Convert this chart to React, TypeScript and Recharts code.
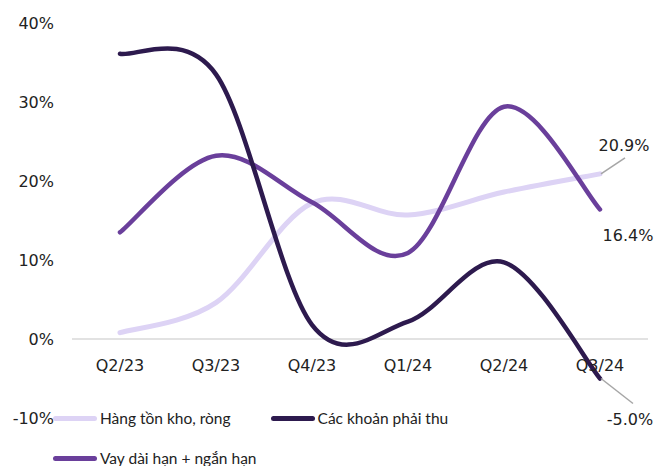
import React from 'react'
import { LineChart, Line, XAxis, YAxis, ReferenceLine, LabelList, Legend } from 'recharts'

const categories = ['Q2/23', 'Q3/23', 'Q4/23', 'Q1/24', 'Q2/24', 'Q3/24']
const hangTonKho = [0.8, 4.6, 17.2, 15.7, 18.6, 20.9]
const cacKhoanPhaiThu = [36.1, 33.5, 1.8, 2.2, 9.7, -5.0]
const vayDaiNgan = [13.5, 23.2, 17.3, 10.9, 29.4, 16.4]
const yTicks = [-10, 0, 10, 20, 30, 40]

const data = categories.map((q, i) => ({
  q,
  htk: hangTonKho[i],
  ckpt: cacKhoanPhaiThu[i],
  vay: vayDaiNgan[i],
}))

const AXIS_FONT = '"DejaVu Sans", sans-serif'
const LEGEND_FONT = 'Lato, sans-serif'

// Excel-like smoothed line (Catmull-Rom as cubic bezier)
const excelSmooth = (context: any) => {
  let pts: [number, number][] = []
  return {
    areaStart() {},
    areaEnd() {},
    lineStart() {
      pts = []
    },
    point(x: number, y: number) {
      pts.push([+x, +y])
    },
    lineEnd() {
      const n = pts.length
      if (!n) return
      context.moveTo(pts[0][0], pts[0][1])
      for (let i = 0; i < n - 1; i++) {
        const p0 = pts[Math.max(i - 1, 0)]
        const p1 = pts[i]
        const p2 = pts[i + 1]
        const p3 = pts[Math.min(i + 2, n - 1)]
        context.bezierCurveTo(
          p1[0] + (p2[0] - p0[0]) / 6,
          p1[1] + (p2[1] - p0[1]) / 6,
          p2[0] - (p3[0] - p1[0]) / 6,
          p2[1] - (p3[1] - p1[1]) / 6,
          p2[0],
          p2[1]
        )
      }
    },
  }
}

const series = [
  { key: 'htk', name: 'Hàng tồn kho, ròng', color: '#DDD3F5', width: 5 },
  { key: 'ckpt', name: 'Các khoản phải thu', color: '#2D1A4E', width: 4.5 },
  { key: 'vay', name: 'Vay dài hạn + ngắn hạn', color: '#6A3F9B', width: 4.5 },
]

const XTick = ({ x, y, payload }: any) => (
  <text x={x} y={y - 47} textAnchor="middle" fontSize={16} fontFamily={AXIS_FONT} fill="#222">
    {payload.value}
  </text>
)

const makeEndLabel = (dx: number, dy: number, leader?: [number, number]) => (props: any) => {
  const { x, y, index, value } = props
  if (index !== categories.length - 1) return null
  return (
    <g>
      {leader && (
        <line x1={x + 1} y1={y} x2={x + leader[0]} y2={y + leader[1]} stroke="#A6A6A6" strokeWidth={1.5} />
      )}
      <text
        x={x + dx}
        y={y + dy}
        dy="0.355em"
        textAnchor="middle"
        fontSize={16}
        fontFamily={AXIS_FONT}
        fill="#222"
      >
        {`${Number(value).toFixed(1)}%`}
      </text>
    </g>
  )
}

const renderLegend = () => (
  <div style={{ display: 'flex', flexWrap: 'wrap', width: 560, fontFamily: LEGEND_FONT, fontSize: 15.5, color: '#222' }}>
    {series.map((s) => (
      <div key={s.key} style={{ display: 'flex', alignItems: 'center', height: 40, marginRight: 40 }}>
        <span
          style={{
            display: 'inline-block',
            width: 44,
            height: 5,
            borderRadius: 3,
            background: s.color,
            marginRight: 3,
          }}
        />
        <span>{s.name}</span>
      </div>
    ))}
  </div>
)

export default function App() {
  const drawOrder = [series[0], series[2], series[1]]
  return (
    <div style={{ position: 'absolute', left: 0, top: 0, width: 659, height: 466, background: '#fff' }}>
      <LineChart width={659} height={466} data={data} margin={{ top: 23, right: 11, left: 0, bottom: 18 }}>
        <XAxis
          dataKey="q"
          axisLine={false}
          tickLine={false}
          tickSize={0}
          tickMargin={0}
          height={30}
          padding={{ left: 48, right: 48 }}
          tick={<XTick />}
          interval={0}
        />
        <YAxis
          domain={[-10, 40]}
          ticks={yTicks}
          width={72}
          axisLine={false}
          tickLine={false}
          tickSize={0}
          tickMargin={18}
          tickFormatter={(v: number) => `${v}%`}
          tick={{ fontSize: 16, fontFamily: AXIS_FONT, fill: '#222' }}
        />
        <ReferenceLine y={0} stroke="#D9D9D9" strokeWidth={1.5} />
        {drawOrder.map((s) => (
          <Line
            key={s.key}
            dataKey={s.key}
            name={s.name}
            type={excelSmooth as any}
            stroke={s.color}
            strokeWidth={s.width}
            strokeLinecap="round"
            dot={false}
            activeDot={false}
            isAnimationActive={false}
          >
            <LabelList
              dataKey={s.key}
              content={
                s.key === 'htk'
                  ? makeEndLabel(24, -29, [25, -16])
                  : s.key === 'vay'
                  ? makeEndLabel(28, 26)
                  : makeEndLabel(30, 41, [33, 25])
              }
            />
          </Line>
        ))}
        <Legend
          verticalAlign="middle"
          layout="horizontal"
          content={renderLegend}
          wrapperStyle={{ top: 398, left: 53, width: 600, height: 80 }}
        />
      </LineChart>
    </div>
  )
}
